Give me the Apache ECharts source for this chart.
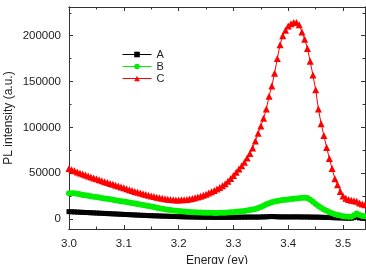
<!DOCTYPE html>
<html>
<head>
<meta charset="utf-8">
<title>PL spectra</title>
<script src="https://cdn.jsdelivr.net/npm/echarts@6/dist/echarts.min.js"></script>
<style>
    html, body { margin: 0; padding: 0; background: #fff; }
    #chart { width: 366px; height: 264px; }
</style>
</head>
<body>
<div id="chart"></div>
<script>
// photon energy (eV), one point every 0.005
var energy = [
    3.000,3.005,3.010,3.015,3.020,3.025,3.030,3.035,3.040,3.045,
    3.050,3.055,3.060,3.065,3.070,3.075,3.080,3.085,3.090,3.095,
    3.100,3.105,3.110,3.115,3.120,3.125,3.130,3.135,3.140,3.145,
    3.150,3.155,3.160,3.165,3.170,3.175,3.180,3.185,3.190,3.195,
    3.200,3.205,3.210,3.215,3.220,3.225,3.230,3.235,3.240,3.245,
    3.250,3.255,3.260,3.265,3.270,3.275,3.280,3.285,3.290,3.295,
    3.300,3.305,3.310,3.315,3.320,3.325,3.330,3.335,3.340,3.345,
    3.350,3.355,3.360,3.365,3.370,3.375,3.380,3.385,3.390,3.395,
    3.400,3.405,3.410,3.415,3.420,3.425,3.430,3.435,3.440,3.445,
    3.450,3.455,3.460,3.465,3.470,3.475,3.480,3.485,3.490,3.495,
    3.500,3.505,3.510,3.515,3.520,3.525,3.530,3.535,3.540
];

// PL intensity (a.u.)
var sampleA = [
    8000,7900,7700,7600,7400,7300,7100,7000,6800,6700,
    6500,6400,6200,6100,5900,5800,5600,5500,5300,5200,
    5000,4900,4700,4600,4400,4300,4100,4000,3900,3700,
    3600,3500,3400,3300,3200,3100,3000,2900,2800,2700,
    2600,2500,2400,2300,2300,2200,2100,2100,2000,2000,
    1900,1900,1900,1800,1800,1800,1800,1800,1800,1900,
    1900,1900,2000,2000,2000,2100,2100,2100,2100,2100,
    2200,2300,2400,2600,2700,2600,2400,2300,2300,2300,
    2300,2300,2300,2300,2300,2200,2200,2200,2100,2100,
    2000,2000,1900,1800,1700,1600,1500,1400,1300,1200,
    1100,1000,900,900,1500,2500,1200,800,700
];
var sampleB = [
    28000,28200,28000,27500,26900,26300,25800,25300,24900,24400,
    24000,23500,23000,22500,22000,21500,21000,20500,20000,19500,
    19000,18500,18000,17500,17000,16400,15800,15200,14700,14200,
    13600,13000,12400,11800,11200,10700,10200,9800,9400,9000,
    8700,8400,8100,7900,7700,7500,7300,7100,7000,6900,
    6800,6700,6700,6600,6600,6700,6800,6900,7100,7300,
    7500,7800,8100,8400,8800,9200,9700,10300,11000,12000,
    13200,14600,16000,17200,18200,19000,19700,20200,20700,21100,
    21400,21700,22000,22300,22700,23100,23300,22800,21000,18800,
    16500,14300,12300,10500,8900,7500,6300,5300,4400,3700,
    3100,2700,2500,2600,4000,6000,4500,3200,3000
];
var sampleC = [
    55000,53800,52600,51400,50200,49100,48000,46900,45800,44800,
    43800,42700,41700,40700,39700,38700,37800,36900,35900,35000,
    34000,33000,32000,31000,30100,29200,28300,27500,26700,25900,
    25200,24500,23800,23200,22600,22100,21600,21200,21000,20800,
    20800,20900,21100,21400,21900,22500,23200,24000,24900,25900,
    27000,28300,29700,31200,32800,34500,36400,38600,41200,44200,
    47500,51000,54500,58000,62000,66500,71500,77500,85000,93500,
    101500,109900,120000,134000,145000,159000,175000,190000,200000,206000,
    210500,213000,214500,214500,212000,204000,196000,186000,172000,157000,
    141000,120000,104000,91000,78000,66000,55000,44000,37500,30000,
    25000,22700,21200,20500,19800,19500,17500,16500,15500
];

var names = ['A', 'B', 'C'];
var xMajor = [3.0, 3.1, 3.2, 3.3, 3.4, 3.5];
var xMinor = [3.05, 3.15, 3.25, 3.35, 3.45];
var yMajor = [0, 50000, 100000, 150000, 200000];
var yMinor = [25000, 75000, 125000, 175000, 225000];

var font = 'Liberation Sans, Arial, sans-serif';
var axisColor = '#333';

var pairs = function(vals){
    return energy.map(function(e, i){ return [e, vals[i]]; });
};

// one axis per side for the major ticks, one more for the minor ticks
var xAxisFor = function(pos, ticks, len, labels){
    return {
        type: 'value', position: pos, min: 3.0, max: 3.54,
        axisLine: {show: true, onZero: false, lineStyle: {color: axisColor, width: 1}},
        axisTick: {show: true, inside: true, length: len, customValues: ticks, lineStyle: {color: axisColor}},
        axisLabel: labels ? {
            show: true, customValues: ticks, margin: 9, fontSize: 11.5, color: '#222', fontFamily: font,
            formatter: function(v){ return v.toFixed(1); }
        } : {show: false},
        splitLine: {show: false},
        name: labels ? 'Energy (ev)' : '',
        nameLocation: 'middle', nameGap: 26, nameMoveOverlap: false,
        nameTextStyle: {fontSize: 12, color: '#222', fontFamily: font}
    };
};
var yAxisFor = function(pos, ticks, len, labels){
    return {
        type: 'value', position: pos, min: -10900, max: 231300,
        axisLine: {show: true, onZero: false, lineStyle: {color: axisColor, width: 1}},
        axisTick: {show: true, inside: true, length: len, customValues: ticks, lineStyle: {color: axisColor}},
        axisLabel: labels ? {
            show: true, customValues: ticks, margin: 8, fontSize: 11.5, color: '#222', fontFamily: font,
            formatter: function(v){ return String(v); }
        } : {show: false},
        splitLine: {show: false},
        name: labels ? 'PL intensity (a.u.)' : '',
        nameLocation: 'middle', nameGap: 54, nameMoveOverlap: false,
        nameTextStyle: {fontSize: 12, color: '#222', fontFamily: font}
    };
};

var option = {
    animation: false,
    backgroundColor: '#fff',
    grid: {left: 69, right: 1, top: 7, bottom: 35, containLabel: false, outerBoundsMode: 'none'},
    legend: {
        orient: 'vertical', left: 122, top: 49, padding: 0,
        itemWidth: 29, itemHeight: 7, itemGap: 1,
        lineStyle: {width: 1},
        textStyle: {fontSize: 11, lineHeight: 11, color: '#222', fontFamily: font},
        data: names
    },
    xAxis: [
        xAxisFor('bottom', xMajor, 4, true),
        xAxisFor('bottom', xMinor, 2.5, false),
        xAxisFor('top', xMajor, 4, false),
        xAxisFor('top', xMinor, 2.5, false)
    ],
    yAxis: [
        yAxisFor('left', yMajor, 4, true),
        yAxisFor('left', yMinor, 2.5, false),
        yAxisFor('right', yMajor, 4, false),
        yAxisFor('right', yMinor, 2.5, false)
    ],
    series: [
        {
            name: 'A', type: 'line', data: pairs(sampleA),
            symbol: 'rect', symbolSize: 5, showAllSymbol: true,
            itemStyle: {color: '#000'}, lineStyle: {color: '#000', width: 1}
        },
        {
            name: 'B', type: 'line', data: pairs(sampleB),
            symbol: 'circle', symbolSize: 6, showAllSymbol: true,
            itemStyle: {color: '#00ee00'}, lineStyle: {color: '#00ee00', width: 1}
        },
        {
            name: 'C', type: 'line', data: pairs(sampleC),
            symbol: 'triangle', symbolSize: 7, showAllSymbol: true,
            itemStyle: {color: '#ff0000'}, lineStyle: {color: '#ff0000', width: 1}
        }
    ]
};

var chart = echarts.init(document.getElementById('chart'));
chart.setOption(option);
</script>
</body>
</html>
